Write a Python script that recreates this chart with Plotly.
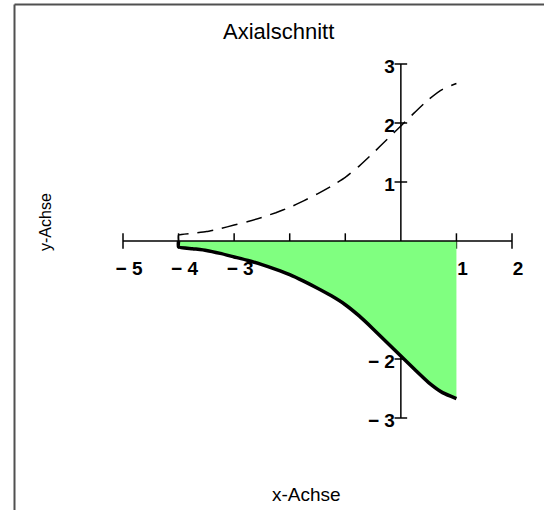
import plotly.graph_objects as go

# --- data ---
x_vals = [-4.0, -3.75, -3.5, -3.25, -3.0, -2.75, -2.5, -2.25, -2.0, -1.75, -1.5, -1.25,
          -1.0, -0.75, -0.5, -0.25, 0.0, 0.25, 0.5, 0.75, 1.0]
r_vals = [0.10, 0.13, 0.16, 0.21, 0.27, 0.33, 0.40, 0.48, 0.57, 0.68, 0.80, 0.93,
          1.08, 1.27, 1.49, 1.72, 1.95, 2.18, 2.40, 2.57, 2.67]

x_ticks = [-5, -4, -3, -2, -1, 1, 2]
x_ticklabels = ["\u2212 5", "\u2212 4", "\u2212 3", "\u2212 2", "\u2212 1", "1", "2"]
y_ticks = [-3, -2, -1, 1, 2, 3]
y_ticklabels = ["\u2212 3", "\u2212 2", "\u2212 1", "1", "2", "3"]

x_range = [-5, 2]
y_range = [-3, 3]

title_text = "Axialschnitt"
x_title = "x-Achse"
y_title = "y-Achse"

W, H = 544, 510
PLOT_L, PLOT_R, PLOT_T, PLOT_B = 123, 512, 64, 418  # page pixels
ML, MT = PLOT_L, PLOT_T
MR, MB = W - PLOT_R, H - PLOT_B
PW, PH = W - ML - MR, H - MT - MB


def px_x(p):
    return (p - ML) / PW


def px_y(p):
    return (H - MB - p) / PH


fig = go.Figure()

# tick marks (under the fill)
fig.add_trace(go.Scatter(
    x=x_ticks, y=[0] * len(x_ticks), mode="markers",
    marker=dict(symbol="line-ns", size=11, color="black", line=dict(width=1.5, color="black")),
    hoverinfo="skip", showlegend=False, cliponaxis=False))
fig.add_trace(go.Scatter(
    x=[0] * len(y_ticks), y=y_ticks, mode="markers",
    marker=dict(symbol="line-ew", size=9, color="black", line=dict(width=1.5, color="black")),
    hoverinfo="skip", showlegend=False, cliponaxis=False))

# upper (dashed) profile
fig.add_trace(go.Scatter(
    x=[x_vals[0]] + x_vals, y=[0] + r_vals, mode="lines",
    line=dict(color="black", width=1.5, dash="16px,9px", shape="spline", smoothing=0.5),
    hoverinfo="skip", showlegend=False, cliponaxis=False))

# lower (solid) profile with green fill
fig.add_trace(go.Scatter(
    x=[x_vals[0]] + x_vals, y=[0] + [-r for r in r_vals], mode="lines",
    fill="tozeroy", fillcolor="#80FF80",
    line=dict(color="black", width=3.5, shape="spline", smoothing=0.5),
    hoverinfo="skip", showlegend=False, cliponaxis=False))

tick_font = dict(family="Liberation Sans, Arial", size=19, color="black", weight="bold")

fig.update_layout(
    width=W, height=H,
    margin=dict(l=ML, r=MR, t=MT, b=MB, pad=0),
    paper_bgcolor="white", plot_bgcolor="white",
    showlegend=False,
    hovermode=False,
    xaxis=dict(range=x_range, anchor="free", position=0.5, showgrid=False, zeroline=False,
               showline=False, ticks="", tickmode="array", tickvals=x_ticks, ticktext=x_ticklabels,
               tickfont=tick_font, layer="below traces", ticklabelstandoff=14, ticklabelshift=6,
               fixedrange=True),
    yaxis=dict(range=y_range, anchor="free", position=5 / 7, showgrid=False, zeroline=False,
               showline=False, ticks="", tickmode="array", tickvals=y_ticks, ticktext=y_ticklabels,
               tickfont=tick_font, layer="below traces", ticklabelstandoff=6, ticklabelshift=2,
               fixedrange=True),
    shapes=[
        # x axis line (drawn above the fill)
        dict(type="line", xref="x domain", yref="y", x0=0, x1=1, y0=0, y1=0,
             line=dict(color="black", width=1.5), layer="above"),
        # y axis line (drawn below the fill)
        dict(type="line", xref="x", yref="y domain", x0=0, x1=0, y0=0, y1=1,
             line=dict(color="black", width=1.5), layer="below"),
        # outer frame (left and top edges)
        dict(type="line", xref="paper", yref="paper", x0=px_x(14.5), x1=px_x(14.5),
             y0=px_y(4.5), y1=px_y(530), line=dict(color="#505050", width=2)),
        dict(type="line", xref="paper", yref="paper", x0=px_x(14.5), x1=px_x(570),
             y0=px_y(4.5), y1=px_y(4.5), line=dict(color="#505050", width=2)),
    ],
    annotations=[
        dict(text=title_text, xref="paper", yref="paper", x=px_x(278), y=px_y(32),
             xanchor="center", yanchor="middle", showarrow=False,
             font=dict(family="Liberation Sans, Arial", size=22, color="black")),
        dict(text=x_title, xref="paper", yref="paper", x=px_x(306), y=px_y(494),
             xanchor="center", yanchor="middle", showarrow=False,
             font=dict(family="Liberation Sans, Arial", size=19, color="black")),
        dict(text=y_title, xref="paper", yref="paper", x=px_x(45), y=px_y(222),
             xanchor="center", yanchor="middle", showarrow=False, textangle=-90,
             font=dict(family="Liberation Sans, Arial", size=16, color="black")),
    ],
)

fig.write_html("out.html", config={"displayModeBar": False, "staticPlot": True},
               post_script="document.body.style.margin='0';")
